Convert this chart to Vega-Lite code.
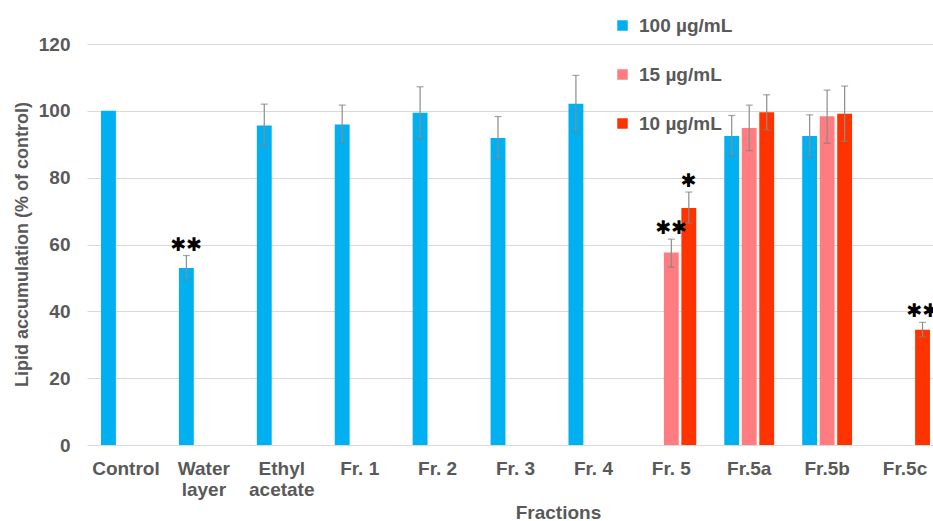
{
  "$schema": "https://vega.github.io/schema/vega-lite/v6.json",
  "autosize": {"type": "none"},
  "padding": {"left": 87, "top": 44, "right": 0, "bottom": 76},
  "width": 846,
  "height": 401,
  "background": "white",
  "config": {
    "view": {"stroke": null},
    "font": "Liberation Sans"
  },
  "data": {
    "values": [
      {"cat": "Control", "series": "100 µg/mL", "value": 100.0, "lo": null, "hi": null, "star": ""},
      {"cat": "Water layer", "series": "100 µg/mL", "value": 53.0, "lo": 49.4, "hi": 56.7, "star": "✱✱"},
      {"cat": "Ethyl acetate", "series": "100 µg/mL", "value": 95.6, "lo": 89.4, "hi": 102.0, "star": ""},
      {"cat": "Fr. 1", "series": "100 µg/mL", "value": 95.9, "lo": 90.3, "hi": 101.7, "star": ""},
      {"cat": "Fr. 2", "series": "100 µg/mL", "value": 99.4, "lo": 91.5, "hi": 107.2, "star": ""},
      {"cat": "Fr. 3", "series": "100 µg/mL", "value": 91.9, "lo": 85.6, "hi": 98.3, "star": ""},
      {"cat": "Fr. 4", "series": "100 µg/mL", "value": 102.1, "lo": 93.6, "hi": 110.6, "star": ""},
      {"cat": "Fr. 5", "series": "15 µg/mL", "value": 57.6, "lo": 53.2, "hi": 61.6, "star": "✱✱"},
      {"cat": "Fr. 5", "series": "10 µg/mL", "value": 70.9, "lo": 66.4, "hi": 75.7, "star": "✱"},
      {"cat": "Fr.5a", "series": "100 µg/mL", "value": 92.5, "lo": 86.4, "hi": 98.6, "star": ""},
      {"cat": "Fr.5a", "series": "15 µg/mL", "value": 94.9, "lo": 88.1, "hi": 101.7, "star": ""},
      {"cat": "Fr.5a", "series": "10 µg/mL", "value": 99.6, "lo": 94.3, "hi": 104.8, "star": ""},
      {"cat": "Fr.5b", "series": "100 µg/mL", "value": 92.5, "lo": 86.2, "hi": 98.8, "star": ""},
      {"cat": "Fr.5b", "series": "15 µg/mL", "value": 98.4, "lo": 90.3, "hi": 106.2, "star": ""},
      {"cat": "Fr.5b", "series": "10 µg/mL", "value": 99.1, "lo": 90.9, "hi": 107.4, "star": ""},
      {"cat": "Fr.5c", "series": "10 µg/mL", "value": 34.5, "lo": 32.4, "hi": 36.7, "star": "✱✱"}
    ]
  },
  "encoding": {
    "x": {
      "field": "cat", "type": "nominal", "sort": null,
      "scale": {"range": [0, 857], "paddingInner": 0.36, "paddingOuter": 0.18,
        "domain": ["Control", "Water layer", "Ethyl acetate", "Fr. 1", "Fr. 2", "Fr. 3", "Fr. 4", "Fr. 5", "Fr.5a", "Fr.5b", "Fr.5c"]},
      "axis": {
        "title": "Fractions", "labelAngle": 0, "domain": false, "ticks": false,
        "labelExpr": "datum.value == 'Water layer' || datum.value == 'Ethyl acetate' ? split(datum.value, ' ') : datum.value",
        "labelFont": "Liberation Sans", "labelFontWeight": "bold", "labelFontSize": 19, "labelColor": "#595959",
        "labelPadding": 14, "labelLineHeight": 21, "labelBaseline": "top",
        "titleFont": "Liberation Sans", "titleFontWeight": "bold", "titleFontSize": 19, "titleColor": "#595959",
        "titleX": 471, "titleY": 67, "titleBaseline": "middle", "titleAnchor": null
      }
    },
    "xOffset": {
      "field": "series", "type": "nominal",
      "scale": {"domain": ["100 µg/mL", "15 µg/mL", "10 µg/mL"], "paddingInner": 0.15, "paddingOuter": 0}
    }
  },
  "layer": [
    {
      "mark": {"type": "bar"},
      "encoding": {
        "y": {
          "field": "value", "type": "quantitative",
          "scale": {"domain": [0, 120], "nice": false},
          "axis": {
            "title": "Lipid accumulation (% of control)", "values": [0, 20, 40, 60, 80, 100, 120],
            "domain": false, "ticks": false, "grid": true, "gridColor": "#D9D9D9", "gridWidth": 1,
            "labelFont": "Liberation Sans", "labelFontWeight": "bold", "labelFontSize": 19, "labelColor": "#595959",
            "labelPadding": 17,
            "titleFont": "Liberation Sans", "titleFontWeight": "bold", "titleFontSize": 18, "titleColor": "#595959",
            "titleX": -65, "titleY": 200, "titleAngle": -90, "titleAlign": "center", "titleBaseline": "middle"
          }
        },
        "color": {
          "field": "series", "type": "nominal",
          "scale": {"domain": ["100 µg/mL", "15 µg/mL", "10 µg/mL"], "range": ["#00B0F0", "#FF7C80", "#FF3300"]},
          "legend": {
            "title": null, "orient": "none", "legendX": 526, "legendY": -28,
            "symbolType": "square", "symbolSize": 110, "symbolStrokeWidth": 0,
            "labelFont": "Liberation Sans", "labelFontWeight": "bold", "labelFontSize": 19, "labelColor": "#595959",
            "labelOffset": 7, "rowPadding": 29, "padding": 0
          }
        }
      }
    },
    {
      "mark": {"type": "rule", "color": "#8C8C8C", "strokeWidth": 1.2},
      "encoding": {
        "y": {"field": "lo", "type": "quantitative"},
        "y2": {"field": "hi"}
      }
    },
    {
      "mark": {"type": "tick", "color": "#7F7F7F", "thickness": 1.2, "size": 7, "orient": "horizontal"},
      "encoding": {"y": {"field": "hi", "type": "quantitative"}}
    },
    {
      "mark": {"type": "tick", "color": "#7F7F7F", "thickness": 1.2, "size": 7, "orient": "horizontal"},
      "encoding": {"y": {"field": "lo", "type": "quantitative"}}
    },
    {
      "mark": {"type": "text", "font": "DejaVu Sans", "fontWeight": "bold", "fontSize": 19, "color": "black", "baseline": "middle", "dy": -11},
      "encoding": {
        "y": {"field": "hi", "type": "quantitative"},
        "text": {"field": "star"}
      }
    }
  ]
}
